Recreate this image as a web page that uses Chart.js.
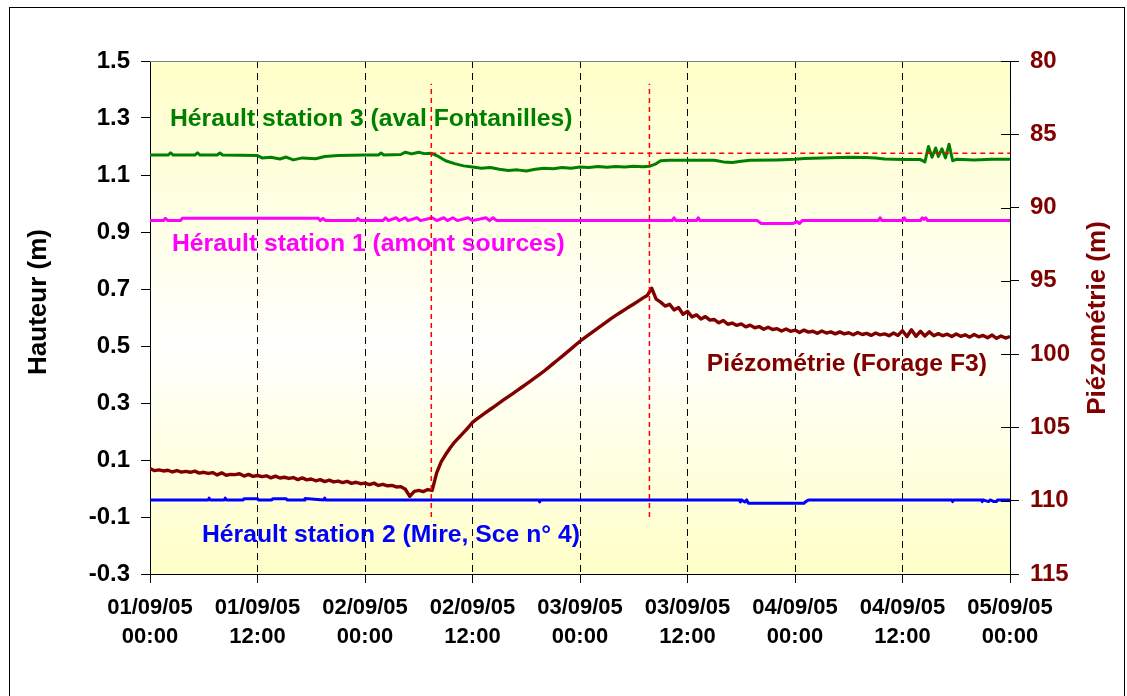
<!DOCTYPE html>
<html>
<head>
<meta charset="utf-8">
<script src="https://cdn.jsdelivr.net/npm/chart.js@4"></script>
<style>
  body { margin: 0; background: #fff; }
</style>
</head>
<body>
<canvas id="myChart" width="1127" height="696"></canvas>
<script>
const FONT = '"Liberation Sans", Arial, sans-serif'

// time axis in hours from 01/09/05 00:00
const xTicks = [0, 12, 24, 36, 48, 60, 72, 84, 96]
const xTickDates = ['01/09/05', '01/09/05', '02/09/05', '02/09/05', '03/09/05', '03/09/05', '04/09/05', '04/09/05', '05/09/05']
const xTickTimes = ['00:00', '12:00', '00:00', '12:00', '00:00', '12:00', '00:00', '12:00', '00:00']
const hauteurTicks = [1.5, 1.3, 1.1, 0.9, 0.7, 0.5, 0.3, 0.1, -0.1, -0.3]
const piezoTicks = [80, 85, 90, 95, 100, 105, 110, 115]

// Hérault station 3 (aval Fontanilles), m
const station3Hours = [0, 2, 2.3, 2.6, 5, 5.3, 5.6, 7.5, 7.8, 8.1,
  12, 12.5, 13.5, 14.5, 15.2, 16, 17, 18.5, 19.5, 21,
  24, 25.5, 25.8, 26.1, 28, 28.5, 29.2, 30, 30.6, 31.4,
  32.2, 33, 34, 35, 36, 37, 38, 39, 40, 41,
  42, 43, 44, 45, 46, 47, 48, 49, 50, 51,
  52, 53, 54, 55, 55.8, 56.4, 57, 58, 60, 63,
  64, 65, 66, 67, 70, 72, 73, 75, 78, 80,
  81, 82, 83, 84, 86, 86.5, 86.9, 87.3, 87.7, 88,
  88.4, 88.8, 89.2, 89.6, 90, 92, 94, 96]
const station3Values = [1.170, 1.170, 1.178, 1.170, 1.170, 1.178, 1.170, 1.170, 1.177, 1.170,
  1.168, 1.160, 1.162, 1.156, 1.163, 1.153, 1.160, 1.157, 1.165, 1.168,
  1.170, 1.170, 1.177, 1.170, 1.172, 1.180, 1.174, 1.180, 1.175, 1.176,
  1.165, 1.150, 1.140, 1.132, 1.128, 1.124, 1.126, 1.120, 1.116, 1.118,
  1.114, 1.120, 1.124, 1.122, 1.126, 1.124, 1.128, 1.126, 1.130, 1.127,
  1.130, 1.128, 1.131, 1.129, 1.131, 1.138, 1.150, 1.152, 1.152, 1.152,
  1.146, 1.144, 1.148, 1.152, 1.153, 1.155, 1.158, 1.160, 1.162, 1.161,
  1.160, 1.156, 1.155, 1.154, 1.154, 1.146, 1.200, 1.162, 1.195, 1.165,
  1.192, 1.160, 1.208, 1.150, 1.155, 1.153, 1.155, 1.155]

// Hérault station 1 (amont sources), m
const station1Hours = [0, 1.5, 1.7, 2, 3.4, 3.6, 18.8, 19, 19.3, 19.6,
  23, 23.2, 23.5, 26, 26.3, 26.6, 27.5, 27.8, 28.5, 28.8,
  29.8, 30.2, 31.5, 32, 32.8, 33.2, 33.8, 34.3, 35.5, 36,
  37.5, 37.9, 38.3, 38.7, 58.3, 58.5, 58.7, 61, 61.2, 61.4,
  67.8, 68.2, 71.8, 72.2, 72.5, 72.8, 81.3, 81.5, 81.7, 84,
  84.2, 84.4, 86, 86.2, 86.4, 86.6, 86.8, 96]
const station1Values = [0.940, 0.940, 0.948, 0.940, 0.940, 0.948, 0.948, 0.940, 0.948, 0.940,
  0.940, 0.948, 0.940, 0.940, 0.950, 0.940, 0.950, 0.940, 0.950, 0.940,
  0.950, 0.940, 0.950, 0.940, 0.950, 0.940, 0.950, 0.940, 0.950, 0.940,
  0.950, 0.940, 0.950, 0.940, 0.940, 0.950, 0.940, 0.940, 0.950, 0.940,
  0.940, 0.930, 0.930, 0.937, 0.930, 0.940, 0.940, 0.950, 0.940, 0.940,
  0.950, 0.940, 0.940, 0.950, 0.944, 0.950, 0.940, 0.940]

// Hérault station 2 (Mire, Sce n° 4), m
const station2Hours = [0, 6.5, 6.6, 6.7, 8.3, 8.4, 8.5, 10.4, 10.5, 12.0,
  12.1, 13.6, 13.7, 15.2, 15.3, 17.2, 17.3, 19.4, 19.5, 19.6,
  43.4, 43.5, 43.6, 65.8, 65.9, 66.0, 66.4, 66.6, 66.8, 73.0,
  73.2, 73.5, 89.5, 89.6, 89.7, 92.8, 92.9, 93.0, 93.6, 93.8,
  94.2, 94.5, 94.6, 96]
const station2Values = [-0.040, -0.040, -0.034, -0.040, -0.040, -0.034, -0.040, -0.040, -0.036, -0.036,
  -0.040, -0.040, -0.036, -0.036, -0.040, -0.040, -0.035, -0.040, -0.034, -0.040,
  -0.040, -0.047, -0.040, -0.040, -0.047, -0.040, -0.047, -0.040, -0.052, -0.052,
  -0.046, -0.040, -0.040, -0.046, -0.040, -0.040, -0.046, -0.040, -0.046, -0.040,
  -0.046, -0.046, -0.040, -0.040]

// Piézométrie (Forage F3), m, one reading every half hour
const piezoStep = 0.5
const piezoValues = [
  107.80, 107.95, 107.90, 107.97, 107.92, 108.04, 107.94, 108.05, 108.00, 108.06,
  107.98, 108.12, 108.06, 108.14, 108.08, 108.24, 108.10, 108.26, 108.20, 108.22,
  108.16, 108.32, 108.20, 108.34, 108.28, 108.36, 108.30, 108.44, 108.32, 108.45,
  108.40, 108.48, 108.42, 108.56, 108.44, 108.58, 108.52, 108.64, 108.56, 108.70,
  108.60, 108.72, 108.66, 108.76, 108.68, 108.82, 108.74, 108.84, 108.80, 108.90,
  108.80, 108.96, 108.88, 108.98, 108.96, 109.06, 109.04, 109.22, 109.70, 109.36,
  109.30, 109.38, 109.24, 109.30,
  108.10, 107.35, 106.85, 106.40, 106.00, 105.68, 105.35, 105.02, 104.65, 104.42,
  104.20, 103.98, 103.76, 103.54, 103.33, 103.11, 102.90, 102.69, 102.47, 102.26,
  102.04, 101.82, 101.60, 101.38, 101.15, 100.90, 100.65, 100.40, 100.15, 99.90,
  99.64, 99.38, 99.12, 98.89, 98.67, 98.45, 98.22, 98.00, 97.78, 97.56,
  97.36, 97.16, 96.96, 96.77, 96.58, 96.38, 96.18, 96.00, 95.50,
  96.25, 96.45, 96.72, 96.60, 96.98, 96.82, 97.28, 97.08, 97.46, 97.32,
  97.60, 97.44, 97.68, 97.64, 97.86, 97.70, 97.96, 97.88, 98.04, 97.94,
  98.14, 98.02, 98.20, 98.12, 98.30, 98.16, 98.32, 98.26, 98.42, 98.28,
  98.44, 98.36, 98.52, 98.36, 98.50, 98.44, 98.58, 98.42, 98.56, 98.48,
  98.62, 98.48, 98.62, 98.54, 98.68, 98.52, 98.66, 98.58, 98.72, 98.56,
  98.68, 98.62, 98.74, 98.56, 98.72, 98.40, 98.80, 98.34, 98.78, 98.44,
  98.76, 98.48, 98.74, 98.60, 98.74, 98.64, 98.80, 98.62, 98.78, 98.68,
  98.84, 98.66, 98.82, 98.72, 98.88, 98.70, 98.92, 98.76, 98.90, 98.80]

// pumping start / stop and the reference level of station 3
const markerHours = [31.4, 55.75]
const markerSpan = [-0.1, 1.42]
const markerLevel = 1.176

function pairs(hours, values) {
  return hours.map((h, i) => ({ x: h, y: values[i] }))
}

const piezoPoints = piezoValues.map((v, i) => ({ x: i * piezoStep, y: v }))

const seriesLabels = [
  { text: 'Hérault station 3 (aval Fontanilles)', color: '#008000', x: 170, y: 126, align: 'left' },
  { text: 'Hérault station 1 (amont sources)', color: '#FF00FF', x: 172, y: 251, align: 'left' },
  { text: 'Piézométrie (Forage F3)', color: '#800000', x: 987, y: 371, align: 'right' },
  { text: 'Hérault station 2 (Mire, Sce n° 4)', color: '#0000FF', x: 202, y: 542, align: 'left' }
]

const decor = {
  id: 'decor',
  beforeDraw(chart) {
    const { ctx, chartArea: a } = chart
    ctx.save()
    let g = ctx.createLinearGradient(0, a.top, 0, a.bottom)
    g.addColorStop(0, '#FFFFC8')
    g.addColorStop(0.55, '#FFFFFD')
    g.addColorStop(1, '#FFFFC8')
    ctx.fillStyle = g
    ctx.fillRect(a.left, a.top, a.right - a.left, a.bottom - a.top)
    ctx.restore()
  },
  afterDatasetsDraw(chart) {
    const ctx = chart.ctx
    ctx.save()
    ctx.font = 'bold 24px ' + FONT
    ctx.textBaseline = 'alphabetic'
    seriesLabels.forEach(l => {
      // slightly wide lettering
      ctx.save()
      ctx.translate(l.x, l.y)
      ctx.scale(1.03, 1)
      ctx.fillStyle = l.color
      ctx.textAlign = l.align
      ctx.fillText(l.text, 0, 0)
      ctx.restore()
    })
    ctx.restore()
  },
  afterDraw(chart) {
    const { ctx, chartArea: a } = chart
    const y2 = chart.scales.y2
    ctx.save()
    // top edge of the plot
    ctx.strokeStyle = '#808080'
    ctx.lineWidth = 1
    ctx.beginPath()
    ctx.moveTo(a.left, a.top + 0.5)
    ctx.lineTo(a.right, a.top + 0.5)
    ctx.stroke()
    // right axis ticks cross the axis line
    ctx.strokeStyle = '#000'
    piezoTicks.forEach(t => {
      const py = Math.round(y2.getPixelForValue(t)) + 0.5
      ctx.beginPath()
      ctx.moveTo(a.right - 9, py)
      ctx.lineTo(a.right, py)
      ctx.stroke()
    })
    // outer frame
    ctx.strokeRect(9.5, 7.5, 1115, 700)
    // axis titles
    ctx.font = 'bold 26px ' + FONT
    ctx.textAlign = 'center'
    ctx.textBaseline = 'middle'
    ctx.fillStyle = '#000'
    ctx.translate(39, 302)
    ctx.rotate(-Math.PI / 2)
    ctx.fillText('Hauteur (m)', 0, 0)
    ctx.setTransform(1, 0, 0, 1, 0, 0)
    ctx.fillStyle = '#800000'
    ctx.translate(1098, 318)
    ctx.rotate(-Math.PI / 2)
    ctx.fillText('Piézométrie (m)', 0, 0)
    ctx.restore()
  }
}

const aChart = document.getElementById('myChart').getContext('2d')

const myChart = new Chart(aChart, {
  type: 'line',
  data: {
    datasets: [
      {
        label: 'début pompage',
        data: pairs([markerHours[0], markerHours[0]], markerSpan),
        borderColor: '#FF0000', borderWidth: 1.5, borderDash: [5, 4], yAxisID: 'y'
      },
      {
        label: 'fin pompage',
        data: pairs([markerHours[1], markerHours[1]], markerSpan),
        borderColor: '#FF0000', borderWidth: 1.5, borderDash: [5, 4], yAxisID: 'y'
      },
      {
        label: 'niveau initial station 3',
        data: pairs([markerHours[0], 96], [markerLevel, markerLevel]),
        borderColor: '#FF0000', borderWidth: 1.5, borderDash: [5, 4], yAxisID: 'y'
      },
      {
        label: 'Hérault station 3 (aval Fontanilles)',
        data: pairs(station3Hours, station3Values),
        borderColor: '#008000', borderWidth: 3, yAxisID: 'y'
      },
      {
        label: 'Hérault station 1 (amont sources)',
        data: pairs(station1Hours, station1Values),
        borderColor: '#FF00FF', borderWidth: 3, yAxisID: 'y'
      },
      {
        label: 'Piézométrie (Forage F3)',
        data: piezoPoints,
        borderColor: '#800000', borderWidth: 3.4, yAxisID: 'y2'
      },
      {
        label: 'Hérault station 2 (Mire, Sce n° 4)',
        data: pairs(station2Hours, station2Values),
        borderColor: '#0000FF', borderWidth: 3, yAxisID: 'y'
      }
    ]
  },
  options: {
    responsive: false,
    animation: false,
    layout: { padding: { top: 61, left: 0, right: 0, bottom: 0 } },
    elements: {
      point: { radius: 0 },
      line: { tension: 0, fill: false, borderJoinStyle: 'round' }
    },
    plugins: {
      legend: { display: false },
      tooltip: { enabled: false }
    },
    scales: {
      x: {
        type: 'linear',
        min: 0,
        max: 96,
        afterBuildTicks(s) { s.ticks = xTicks.map(v => ({ value: v })) },
        afterFit(s) { s.height = 122 },
        grid: { color: '#000', lineWidth: 1, tickLength: 9, tickColor: '#000', tickBorderDash: [] },
        border: { color: '#000', width: 1, dash: [7, 5] },
        ticks: {
          autoSkip: false,
          maxRotation: 0,
          padding: 10,
          color: '#000',
          font: { family: FONT, size: 22, weight: 'bold', lineHeight: 1.32 },
          callback: (value, index) => [xTickDates[index], xTickTimes[index]]
        }
      },
      y: {
        position: 'left',
        min: -0.3,
        max: 1.5,
        afterBuildTicks(s) { s.ticks = hauteurTicks.map(v => ({ value: v })) },
        afterFit(s) { s.width = 150 },
        grid: { drawOnChartArea: false, tickLength: 9, tickColor: '#000' },
        border: { color: '#000', width: 1 },
        ticks: {
          padding: 11,
          color: '#000',
          font: { family: FONT, size: 24, weight: 'bold' },
          callback: v => v.toFixed(1)
        }
      },
      y2: {
        position: 'right',
        reverse: true,
        min: 80,
        max: 115,
        afterBuildTicks(s) { s.ticks = piezoTicks.map(v => ({ value: v })) },
        afterFit(s) { s.width = 117 },
        grid: { drawOnChartArea: false, tickLength: 9, tickColor: '#000' },
        border: { color: '#000', width: 1 },
        ticks: {
          padding: 11,
          color: '#800000',
          font: { family: FONT, size: 24, weight: 'bold' },
          callback: v => String(v)
        }
      }
    }
  },
  plugins: [decor]
})
</script>
</body>
</html>
